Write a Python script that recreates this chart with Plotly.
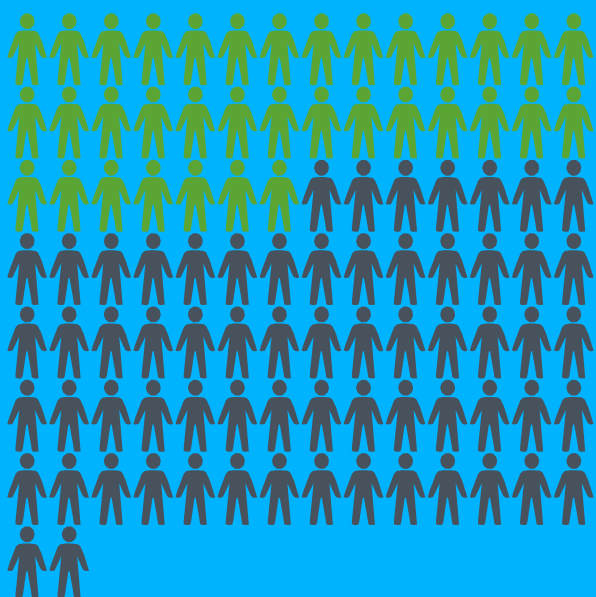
import numpy as np
import plotly.graph_objects as go

# pictogram: 100 people, 14 to a row
group_names = ['Green', 'Grey']
group_counts = [35, 65]
group_colors = ['#5BA534', '#48525C']
per_row = 14

WIDTH, HEIGHT = 596, 597
COL_STEP, ROW_STEP = 42.05, 73.3
LEFT, TOP = 27.2, 0  # centre of first person, top of first row


def chaikin(pts, n=3):
    # rounds the corners of a closed outline
    for _ in range(n):
        nxt = np.roll(pts, -1, axis=0)
        pts = np.column_stack([0.8 * pts + 0.2 * nxt, 0.2 * pts + 0.8 * nxt]).reshape(-1, 2)
    return pts


# half of the body, pixels from the icon centre / row top
half = np.array([
    [0, 30.4], [5.5, 30.4], [10, 31.5], [13, 36.5], [19.4, 55], [20, 58], [14, 58],
    [8.2, 43.5], [7.8, 43.5], [11.8, 81.5], [11.8, 85.2], [4.8, 85.2], [4.2, 81],
    [1.0, 57.8], [0, 57.8],
])
body = np.vstack([half, (half[::-1] * [-1, 1])[1:-1]])
body = chaikin(body)
t = np.linspace(0, 2 * np.pi, 40)
head = np.column_stack([7.4 * np.cos(t), 21.2 + 8 * np.sin(t)])


def person(col, row):
    xs, ys = [], []
    for part in (body, head):
        xs += list(col + part[:, 0] / COL_STEP) + [col + part[0, 0] / COL_STEP, None]
        ys += list(row + part[:, 1] / ROW_STEP) + [row + part[0, 1] / ROW_STEP, None]
    return xs, ys


fig = go.Figure()
start = 0
for name, count, color in zip(group_names, group_counts, group_colors):
    xs, ys = [], []
    for i in range(start, start + count):
        px, py = person(i % per_row, i // per_row)
        xs += px
        ys += py
    start += count
    fig.add_trace(go.Scatter(x=xs, y=ys, mode='lines', name=name, fill='toself',
                             fillcolor=color, line=dict(width=0, color=color),
                             hoverinfo='skip', showlegend=False))

fig.update_layout(
    width=WIDTH, height=HEIGHT, margin=dict(l=0, r=0, t=0, b=0),
    paper_bgcolor='#00B3FF', plot_bgcolor='#00B3FF',
    xaxis=dict(visible=False, range=[-LEFT / COL_STEP, (WIDTH - LEFT) / COL_STEP]),
    yaxis=dict(visible=False, range=[(HEIGHT - TOP) / ROW_STEP, -TOP / ROW_STEP]),
)
fig.write_html("out.html", config=dict(displayModeBar=False),
               post_script="document.body.style.margin='0';document.body.style.background='#00B3FF';")
